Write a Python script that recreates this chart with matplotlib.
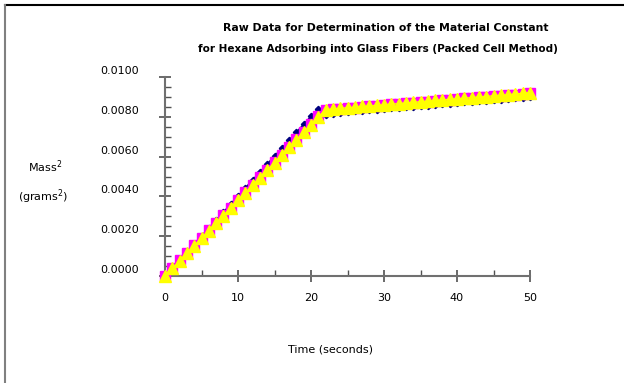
import matplotlib
matplotlib.use("Agg")
import matplotlib.pyplot as plt
from matplotlib.lines import Line2D
from matplotlib.ticker import MultipleLocator, FormatStrFormatter
import matplotlib.transforms as mtransforms

# time in seconds
time_s = list(range(51))

# mass^2 readings (grams^2)
run_navy = [0.00000, 0.00041, 0.00080, 0.00121, 0.00160, 0.00201, 0.00240, 0.00281,
            0.00320, 0.00361, 0.00402, 0.00442, 0.00482, 0.00522, 0.00562, 0.00602,
            0.00642, 0.00682, 0.00722, 0.00762, 0.00802, 0.00840,
            0.00810, 0.00816, 0.00820, 0.00824, 0.00828, 0.00830, 0.00834, 0.00836,
            0.00840, 0.00842, 0.00846, 0.00848, 0.00850, 0.00854, 0.00856, 0.00860,
            0.00862, 0.00866, 0.00868, 0.00872, 0.00874, 0.00878, 0.00880, 0.00884,
            0.00886, 0.00890, 0.00892, 0.00896, 0.00898]
run_magenta = [0.00002, 0.00040, 0.00078, 0.00116, 0.00154, 0.00192, 0.00230, 0.00268,
               0.00306, 0.00344, 0.00382, 0.00420, 0.00458, 0.00496, 0.00534, 0.00572,
               0.00610, 0.00648, 0.00686, 0.00724, 0.00762, 0.00802,
               0.00834, 0.00838, 0.00840, 0.00844, 0.00846, 0.00850, 0.00852, 0.00856,
               0.00858, 0.00862, 0.00864, 0.00868, 0.00870, 0.00874, 0.00876, 0.00880,
               0.00882, 0.00886, 0.00888, 0.00892, 0.00894, 0.00898, 0.00900, 0.00904,
               0.00906, 0.00910, 0.00912, 0.00916, 0.00918]
run_yellow = [0.00000, 0.00038, 0.00076, 0.00114, 0.00152, 0.00190, 0.00228, 0.00266,
              0.00304, 0.00342, 0.00380, 0.00418, 0.00456, 0.00494, 0.00532, 0.00570,
              0.00608, 0.00646, 0.00684, 0.00722, 0.00760, 0.00800,
              0.00836, 0.00840, 0.00842, 0.00846, 0.00848, 0.00852, 0.00854, 0.00858,
              0.00860, 0.00864, 0.00866, 0.00870, 0.00872, 0.00876, 0.00878, 0.00882,
              0.00884, 0.00888, 0.00890, 0.00894, 0.00896, 0.00900, 0.00902, 0.00906,
              0.00908, 0.00912, 0.00914, 0.00918, 0.00922]

plt.rcParams['font.family'] = ['DejaVu Sans']

fig = plt.figure(figsize=(6.24, 3.83), dpi=100)
ax = fig.add_axes([165 / 624, 1 - 276 / 383, 365 / 624, 199 / 383])

ax.plot(time_s, run_navy, color='#000080', lw=1.2, marker='D', ms=3.2,
        mec='#000080', clip_on=False, zorder=3)
ax.plot(time_s, run_magenta, color='#ff00ff', lw=1, marker='s', ms=7.5,
        mec='#ff00ff', clip_on=False, zorder=4)
ax.plot(time_s, run_yellow, color='#ffff00', lw=1, marker='^', ms=9,
        mec='#ffff00', clip_on=False, zorder=5)

ax.set_xlim(0, 50)
ax.set_ylim(0, 0.01)
ax.xaxis.set_major_locator(MultipleLocator(10))
ax.xaxis.set_minor_locator(MultipleLocator(5))
ax.yaxis.set_major_locator(MultipleLocator(0.002))
ax.yaxis.set_minor_locator(MultipleLocator(0.0005))
ax.yaxis.set_major_formatter(FormatStrFormatter('%.4f'))

for s in ['top', 'right']:
    ax.spines[s].set_visible(False)
for s in ['left', 'bottom']:
    ax.spines[s].set_color('#707070')
    ax.spines[s].set_linewidth(1.5)

ax.tick_params(which='major', direction='inout', length=9, width=1.2,
               color='#505050', labelsize=8, labelcolor='black')
ax.tick_params(which='minor', direction='in', length=4, width=1, color='#505050')
ax.tick_params(axis='y', which='major', pad=14)
ax.tick_params(axis='x', which='major', pad=8)

# y labels sit a little above their ticks in the original
offset = mtransforms.ScaledTranslation(0, 5 / 72, fig.dpi_scale_trans)
for lab in ax.get_yticklabels():
    lab.set_transform(lab.get_transform() + offset)

fig.text(386 / 624, 1 - 28 / 383, 'Raw Data for Determination of the Material Constant',
         ha='center', va='center', fontsize=7.8, fontweight='bold')
fig.text(378 / 624, 1 - 49 / 383, 'for Hexane Adsorbing into Glass Fibers (Packed Cell Method)',
         ha='center', va='center', fontsize=7.5, fontweight='bold')
fig.text(45 / 624, 1 - 167 / 383, 'Mass$^2$', ha='center', va='center', fontsize=8)
fig.text(43 / 624, 1 - 197 / 383, '(grams$^2$)', ha='center', va='center', fontsize=8)
fig.text(330 / 624, 1 - 350 / 383, 'Time (seconds)', ha='center', va='center', fontsize=8)

# frame lines of the original picture
fig.add_artist(Line2D([5 / 624, 1], [1 - 5 / 383, 1 - 5 / 383], color='black', lw=1.5))
fig.add_artist(Line2D([5 / 624, 5 / 624], [0, 1 - 5 / 383], color='#808080', lw=1.5))

fig.savefig('out.png', dpi=100)
